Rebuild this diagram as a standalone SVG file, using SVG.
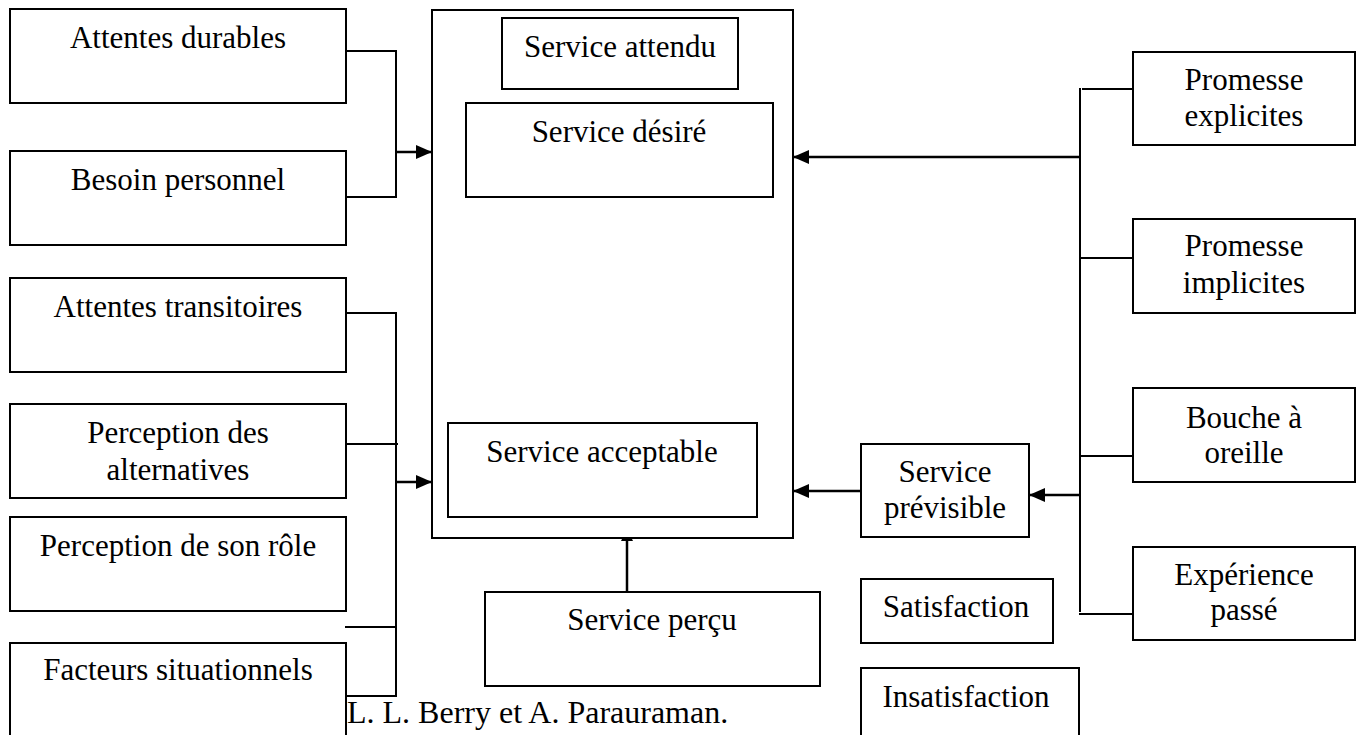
<svg xmlns="http://www.w3.org/2000/svg" width="1362" height="735" viewBox="0 0 1362 735">
<style>
.box{fill:#fff;stroke:#000;stroke-width:2}
.lbl{font-family:"Liberation Serif","Times New Roman",serif;font-size:31px;fill:#000;text-anchor:middle}
.cap{font-family:"Liberation Serif","Times New Roman",serif;font-size:32px;fill:#000}
.ln{fill:none;stroke:#000;stroke-width:2}
.arr{fill:none;stroke:#000;stroke-width:2.5;marker-end:url(#ah)}
</style>
<defs>
<marker id="ah" markerUnits="userSpaceOnUse" markerWidth="17" markerHeight="14" refX="16" refY="7" orient="auto">
<path d="M0,0 L16,7 L0,14 z" fill="#000"/>
</marker>
</defs>
<rect width="1362" height="735" fill="#fff"/>

<g id="connectors">
<path class="ln" d="M346,51 H396 V197 H346"/>
<path class="arr" d="M396,152 H432"/>
<path class="ln" d="M346,313 H396 V696 H346"/>
<path class="ln" d="M347,444 H398"/>
<path class="ln" d="M345,627 H396"/>
<path class="arr" d="M396,482 H432"/>
<path class="ln" d="M1080,88 V612"/>
<path class="ln" d="M1082,89 H1133"/>
<path class="ln" d="M1080,258 H1133"/>
<path class="ln" d="M1080,456 H1133"/>
<path class="ln" d="M1079,614 H1133"/>
<path class="arr" d="M1080,157 H793"/>
<path class="arr" d="M1080,495 H1029"/>
<path class="arr" d="M861,491 H793"/>
<path class="ln" d="M627,592 V540" style="stroke-width:2.5"/>
<polygon points="621,541 633,541 631,537 623,537" fill="#000"/>
</g>

<g id="n-attendu-group">
<rect class="box" x="432" y="10" width="361" height="528"/>
</g>
<g id="n-service-attendu"><rect class="box" x="502" y="18" width="236" height="71"/><text class="lbl" x="620" y="57">Service attendu</text></g>
<g id="n-service-desire"><rect class="box" x="466" y="103" width="307" height="94"/><text class="lbl" x="619" y="142">Service désiré</text></g>
<g id="n-service-acceptable"><rect class="box" x="448" y="423" width="309" height="94"/><text class="lbl" x="602" y="462">Service acceptable</text></g>
<g id="n-service-percu"><rect class="box" x="485" y="592" width="335" height="94"/><text class="lbl" x="652" y="630">Service perçu</text></g>

<g id="n-attentes-durables"><rect class="box" x="10" y="9" width="336" height="94"/><text class="lbl" x="178" y="48">Attentes durables</text></g>
<g id="n-besoin-personnel"><rect class="box" x="10" y="151" width="336" height="94"/><text class="lbl" x="178" y="190">Besoin personnel</text></g>
<g id="n-attentes-transitoires"><rect class="box" x="10" y="278" width="336" height="94"/><text class="lbl" x="178" y="317">Attentes transitoires</text></g>
<g id="n-perception-alternatives"><rect class="box" x="10" y="404" width="336" height="94"/><text class="lbl" x="178" y="443">Perception des</text><text class="lbl" x="178" y="480">alternatives</text></g>
<g id="n-perception-role"><rect class="box" x="10" y="517" width="336" height="94"/><text class="lbl" x="178" y="556">Perception de son rôle</text></g>
<g id="n-facteurs"><rect class="box" x="10" y="643" width="336" height="110"/><text class="lbl" x="178" y="680">Facteurs situationnels</text></g>

<g id="n-service-previsible"><rect class="box" x="861" y="444" width="168" height="93"/><text class="lbl" x="945" y="482">Service</text><text class="lbl" x="945" y="518">prévisible</text></g>
<g id="n-satisfaction"><rect class="box" x="861" y="579" width="192" height="64"/><text class="lbl" x="956" y="617">Satisfaction</text></g>
<g id="n-insatisfaction"><rect class="box" x="861" y="668" width="218" height="80"/><text class="lbl" x="966" y="707">Insatisfaction</text></g>

<g id="n-promesse-explicites"><rect class="box" x="1133" y="52" width="222" height="93"/><text class="lbl" x="1244" y="90">Promesse</text><text class="lbl" x="1244" y="126">explicites</text></g>
<g id="n-promesse-implicites"><rect class="box" x="1133" y="219" width="222" height="94"/><text class="lbl" x="1244" y="256">Promesse</text><text class="lbl" x="1244" y="293">implicites</text></g>
<g id="n-bouche"><rect class="box" x="1133" y="388" width="222" height="94"/><text class="lbl" x="1244" y="428">Bouche à</text><text class="lbl" x="1244" y="463">oreille</text></g>
<g id="n-experience"><rect class="box" x="1133" y="547" width="222" height="93"/><text class="lbl" x="1244" y="585">Expérience</text><text class="lbl" x="1244" y="620">passé</text></g>

<text class="cap" x="347" y="723">L. L. Berry et A. Parauraman.</text>
</svg>
